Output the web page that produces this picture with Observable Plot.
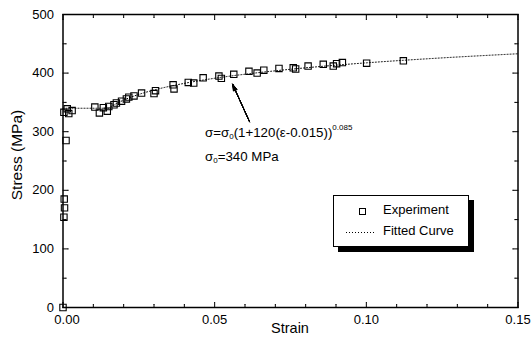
<!DOCTYPE html>
<html><head><meta charset="utf-8">
<script src="https://cdn.jsdelivr.net/npm/d3@7"></script>
<script src="https://cdn.jsdelivr.net/npm/@observablehq/plot@0.6"></script>
<style>
body{margin:0;background:#fff;}
#wrap{position:relative;width:532px;height:349px;font-family:"Liberation Sans",Arial,sans-serif;color:#000;}
#eq{position:absolute;left:205px;top:118px;font-size:13.3px;line-height:20px;white-space:nowrap;}
#eq sub{font-size:8px;vertical-align:-2px;}
#eq sup{font-size:8px;vertical-align:7px;}
#legend{position:absolute;left:333px;top:195px;width:134px;height:50px;border:1px solid #000;background:#fff;box-shadow:5px 5px 0 #000;font-size:13px;}
#legend .t{position:absolute;left:49px;white-space:nowrap;}
.axlab{position:absolute;white-space:nowrap;line-height:1;}
#xlab{left:290px;top:328px;transform:translate(-50%,-50%);font-size:14.5px;}
#ylab{left:17px;top:155px;transform:translate(-50%,-50%) rotate(-90deg);font-size:15.5px;}
</style></head>
<body><div id="wrap"></div>
<script>
// Experimental points
const expStrain = [0.0000,0.0003,0.0005,0.0004,0.0010,0.0003,0.0014,0.0019,0.0030,
  0.0105,0.0120,0.0133,0.0146,0.0151,0.0168,0.0176,0.0193,0.0209,0.0217,0.0234,0.0259,
  0.0300,0.0305,0.0363,0.0366,0.0413,0.0431,0.0462,0.0514,0.0522,0.0563,0.0613,0.0640,
  0.0662,0.0712,0.0759,0.0767,0.0808,0.0858,0.0891,0.0902,0.0921,0.1001,0.1122];
const expStress = [0,154,170,185,285,333,339,331,336,
  342,332,341,335,343,346,349,352,356,359,361,366,
  365,370,380,373,384,383,392,395,391,398,403,400,
  405,408,409,407,412,415,412,416,418,417,421];
// Fitted curve
const fitStrain = [0,0.015,0.0155,0.016,0.0175,0.02,0.025,0.03,0.035,0.04,0.05,0.06,0.07,0.08,0.09,0.10,0.12,0.15];
const fitStress = [340,340,341.7,343.3,347.7,353.9,363.6,371.1,377.3,382.5,391.2,398.1,403.9,409.0,413.5,417.5,424.4,433.0];
// Axis ticks
const xMajor = [0,0.05,0.10,0.15];
const xMinor = [0.01,0.02,0.03,0.04,0.06,0.07,0.08,0.09,0.11,0.12,0.13,0.14];
const yMajor = [0,100,200,300,400,500];
const yMinor = [50,150,250,350,450];
const xTitle = "Strain";
const yTitle = "Stress (MPa)";
// Annotation arrow
const arrowFrom = [0.0615,317];
const arrowTo = [0.0559,381];
const headAngles = [6,12,18,24,30,35];

const exp = expStrain.map((s,i)=>({s, v: expStress[i]}));
const fit = fitStrain.map((s,i)=>({s, v: fitStress[i]}));

const tick = (data, opts) => Plot.vector(data, {anchor:"start", r:0, stroke:"black", strokeWidth:1, ...opts});
const arrows = headAngles.map(a => Plot.arrow([0], {x1:()=>arrowFrom[0], y1:()=>arrowFrom[1], x2:()=>arrowTo[0], y2:()=>arrowTo[1], stroke:"black", strokeWidth:1, headLength:10, headAngle:a}));
const fmt = d3.format(".2f");

const chart = Plot.plot({
  width:532, height:349,
  marginLeft:62.5, marginRight:14.5, marginTop:14, marginBottom:42,
  style:{fontFamily:"'Liberation Sans',Arial,sans-serif", fontSize:"13px", background:"white", color:"black"},
  x:{domain:[0,0.15]},
  y:{domain:[0,500]},
  marks:[
    Plot.line(fit, {x:"s", y:"v", stroke:"black", strokeWidth:1, strokeDasharray:"1,2", curve:"monotone-x"}),
    Plot.dot(exp, {x:"s", y:"v", symbol:"square", r:3.6, stroke:"black", strokeWidth:1.1, fill:"none"}),
    ...arrows,
    // inward ticks
    tick(xMajor, {x:d=>d, y:0, length:5, rotate:0}),
    tick(xMinor, {x:d=>d, y:0, length:3, rotate:0}),
    tick(xMajor, {x:d=>d, y:500, length:5, rotate:180}),
    tick(xMinor, {x:d=>d, y:500, length:3, rotate:180}),
    tick(yMajor, {y:d=>d, x:0, length:5, rotate:90}),
    tick(yMinor, {y:d=>d, x:0, length:3, rotate:90}),
    tick(yMajor, {y:d=>d, x:0.15, length:5, rotate:270}),
    tick(yMinor, {y:d=>d, x:0.15, length:3, rotate:270}),
    Plot.axisX(xMajor.slice(0,1), {tickSize:0, tickPadding:7, tickFormat:fmt, label:null, dx:4}),
    Plot.axisX(xMajor.slice(1), {tickSize:0, tickPadding:7, tickFormat:fmt, label:null}),
    Plot.axisY(yMajor, {tickSize:0, tickPadding:9, label:null}),
    Plot.frame({stroke:"black", strokeWidth:1.5})
  ]
});
const wrap = document.getElementById("wrap");
wrap.appendChild(chart);

const xl = document.createElement("div");
xl.className = "axlab"; xl.id = "xlab"; xl.textContent = xTitle;
wrap.appendChild(xl);
const yl = document.createElement("div");
yl.className = "axlab"; yl.id = "ylab"; yl.textContent = yTitle;
wrap.appendChild(yl);

const eq = document.createElement("div");
eq.id = "eq";
eq.innerHTML = "σ=σ<sub>0</sub>(1+120(ε-0.015))<sup>0.085</sup><br>σ<sub>0</sub>=340 MPa";
wrap.appendChild(eq);

const lg = document.createElement("div");
lg.id = "legend";
lg.innerHTML = `<svg width="134" height="50" style="position:absolute;left:0;top:0">
  <rect x="25.5" y="12.5" width="6" height="6" fill="none" stroke="black"/>
  <line x1="12" y1="36.5" x2="42" y2="36.5" stroke="black" stroke-dasharray="1,2"/>
</svg>
<span class="t" style="top:6px">Experiment</span>
<span class="t" style="top:27px">Fitted Curve</span>`;
wrap.appendChild(lg);
</script></body></html>
